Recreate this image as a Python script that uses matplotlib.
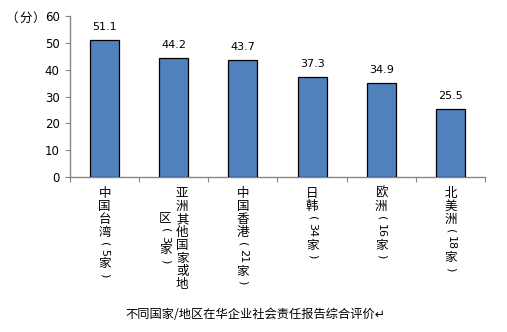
import matplotlib
matplotlib.use("Agg")
import matplotlib.pyplot as plt

plt.rcParams['font.family'] = ['DejaVu Sans', 'Noto Sans CJK SC']

# Data
categories = [
    ["中国台湾（5家）"],
    ["亚洲其他国家或地", "区（3家）"],
    ["中国香港（21家）"],
    ["日韩（34家）"],
    ["欧洲（16家）"],
    ["北美洲（18家）"],
]
scores = [51.1, 44.2, 43.7, 37.3, 34.9, 25.5]
y_ticks = [0, 10, 20, 30, 40, 50, 60]
unit_label = "（分）"
title = "不同国家/地区在华企业社会责任报告综合评价↵"

BAR_COLOR = "#4F81BD"
AXIS_COLOR = "#868686"
CJK = ['Noto Sans CJK SC', 'DejaVu Sans']
W, H = 507, 332

fig = plt.figure(figsize=(W / 100, H / 100), dpi=100)
ax = fig.add_axes([70 / W, 1 - 177 / H, (485 - 70) / W, (177 - 16) / H])

x = list(range(len(scores)))
ax.bar(x, scores, width=0.42, color=BAR_COLOR, edgecolor="black", linewidth=0.9, zorder=3)

for xi, v in zip(x, scores):
    ax.annotate(f"{v:.1f}", xy=(xi, v), xytext=(0, 8), textcoords="offset pixels",
                ha="center", va="bottom", fontsize=8, color="black")

ax.set_xlim(-0.5, len(scores) - 0.5)
ax.set_ylim(0, 60)
ax.set_yticks(y_ticks)
ax.set_yticklabels([str(t) for t in y_ticks], fontsize=8.5)
ax.tick_params(axis="y", length=3.5, width=0.8, color=AXIS_COLOR, pad=4)
ax.set_xticks([i + 0.5 for i in range(-1, len(scores))])
ax.set_xticklabels([])
ax.tick_params(axis="x", length=3.5, width=0.8, color=AXIS_COLOR, direction="out")

for s in ["top", "right"]:
    ax.spines[s].set_visible(False)
for s in ["left", "bottom"]:
    ax.spines[s].set_color(AXIS_COLOR)
    ax.spines[s].set_linewidth(1.0)


def tokens(line):
    """Split a label line into (text, rotated, cell height px) pieces for vertical layout."""
    out = []
    i = 0
    while i < len(line):
        ch = line[i]
        if ch.isdigit():
            j = i
            while j < len(line) and line[j].isdigit():
                j += 1
            out.append((line[i:j], True, 7.5 * (j - i) + 1))
            i = j
            continue
        if ch in "（）":
            out.append(("(" if ch == "（" else ")", True, 9.5))
        else:
            out.append((ch, False, 13))
        i += 1
    return out


def vertical_label(xc, lines):
    n = len(lines)
    heights = [sum(t[2] for t in tokens(l)) for l in lines]
    hmax = max(heights)
    for k, line in enumerate(lines):
        # first line on the right, following lines to the left
        dx = (n - 1) / 2 * 17 - k * 17
        y = -10 - (hmax - heights[k]) / 2
        for txt, rot, h in tokens(line):
            cy = y - h / 2
            ax.annotate(txt, xy=(xc, 0), xycoords=("data", "axes fraction"),
                        xytext=(dx, cy), textcoords="offset pixels",
                        ha="center", va="center", rotation=-90 if rot else 0,
                        fontsize=9 if not rot else 8,
                        family=CJK if not rot else ['DejaVu Sans'],
                        annotation_clip=False)
            y -= h


for xi, lines in zip(x, categories):
    vertical_label(xi, lines)

# unit label drawn piece by piece so the full-width brackets keep their width
for (px, ha), ch in zip([(18, "right"), (26, "center"), (32, "left")], unit_label):
    fig.text(px / W, 1 - 18 / H, ch, ha=ha, va="center", fontsize=9, family=CJK)
fig.text(255 / W, 1 - 315 / H, title, ha="center", va="center", fontsize=8.8, family=CJK)

fig.savefig("out.png", dpi=100)
